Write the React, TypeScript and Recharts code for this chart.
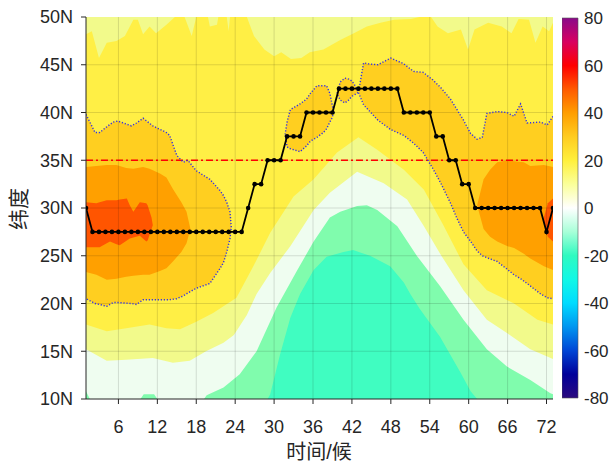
import {
  ComposedChart,
  BarChart,
  Bar,
  Area,
  Line,
  XAxis,
  YAxis,
  ReferenceLine,
} from "recharts";

// ridge line latitude per pentad (1..73)
const ridgeLat = [
  30, 27.5, 27.5, 27.5, 27.5, 27.5, 27.5, 27.5, 27.5, 27.5, 27.5, 27.5, 27.5,
  27.5, 27.5, 27.5, 27.5, 27.5, 27.5, 27.5, 27.5, 27.5, 27.5, 27.5, 27.5, 30,
  32.5, 32.5, 35, 35, 35, 37.5, 37.5, 37.5, 40, 40, 40, 40, 40, 42.5, 42.5,
  42.5, 42.5, 42.5, 42.5, 42.5, 42.5, 42.5, 42.5, 40, 40, 40, 40, 40, 37.5,
  37.5, 35, 35, 32.5, 32.5, 30, 30, 30, 30, 30, 30, 30, 30, 30, 30, 30, 27.5,
  30,
];

const xTicks = [6, 12, 18, 24, 30, 36, 42, 48, 54, 60, 66, 72];
const yTicks = [10, 15, 20, 25, 30, 35, 40, 45, 50];
const cbTicks = [-80, -60, -40, -20, 0, 20, 40, 60, 80];
const refLat = 35;

// filled contour regions: [pentad, lower lat, upper lat]
const goldLeft = [
  [1, 20.5, 39.8], [2.4, 20.0, 37.9], [3.1, 19.9, 37.9], [4.2, 19.7, 38.5],
  [5.2, 20.1, 39.0], [5.9, 20.1, 39.1], [8.0, 20.0, 38.6], [8.8, 19.9, 38.9],
  [9.8, 20.4, 39.4], [11.3, 20.4, 38.6], [13.4, 20.4, 37.9], [13.9, 20.4, 37.6],
  [15.0, 20.5, 35.5], [16.0, 20.8, 34.8], [16.7, 21.1, 35.0], [18.0, 21.6, 33.9],
  [20.1, 22.1, 33.0], [21.7, 23.7, 31.8], [22.2, 24.3, 31.3], [22.7, 25.4, 30.6],
  [23.2, 26.8, 29.6], [23.4, 28.0, 28.0],
];
const goldLoop1 = [
  [31.7, 37.7, 37.7], [32.0, 36.4, 39.0], [32.5, 36.2, 40.3], [34.0, 35.9, 40.9],
  [35.0, 36.5, 41.4], [35.6, 37.0, 42.0], [36.6, 37.4, 42.8], [37.6, 37.9, 42.8],
  [38.1, 38.3, 42.8], [38.6, 39.0, 42.0], [38.9, 39.4, 41.0], [39.2, 40.0, 40.0],
];
const goldLoop2 = [
  [39.7, 42.0, 42.0], [40.2, 41.3, 43.2], [40.9, 41.0, 43.6], [41.5, 41.3, 43.5],
  [42.0, 41.7, 43.3], [42.5, 41.9, 42.8], [43.0, 42.1, 42.1],
];
const goldMain = [
  [43.0, 42.1, 42.1], [43.8, 40.8, 45.2], [44.5, 40.3, 45.1], [46.0, 39.2, 45.0],
  [48.0, 38.2, 45.7], [50.0, 37.6, 45.1], [51.5, 36.8, 44.3], [53.0, 35.8, 44.2],
  [54.5, 34.1, 43.4], [55.7, 32.6, 42.6], [57.2, 30.5, 41.4], [58.2, 28.9, 40.3],
  [59.2, 27.5, 39.2], [60.3, 26.5, 37.8], [61.3, 25.5, 37.2], [62.1, 25.0, 37.4],
  [62.8, 24.8, 39.9], [64.4, 24.4, 40.1], [65.9, 23.6, 40.0], [67.0, 23.0, 39.6],
  [68.0, 22.6, 40.9], [69.0, 22.1, 38.9], [71.1, 21.0, 39.0], [72.1, 20.6, 38.7],
  [73.0, 20.5, 39.6],
];
const orangeLeft = [
  [1, 23.3, 34.3], [2.6, 23.0, 34.4], [4.2, 22.5, 34.5], [5.7, 22.6, 34.5],
  [7.2, 22.8, 34.2], [8.3, 22.9, 34.1], [9.8, 23.0, 34.3], [10.8, 23.0, 34.1],
  [12.4, 23.4, 33.6], [13.4, 23.7, 33.2], [14.4, 24.4, 32.0], [15.7, 25.4, 30.6],
  [16.5, 26.3, 29.6], [17.1, 27.8, 27.8],
];
const orangeRight = [
  [61.3, 30.3, 30.3], [62.3, 27.8, 33.0], [63.3, 27.0, 34.0], [64.4, 26.5, 34.8],
  [66.0, 26.0, 35.0], [67.0, 25.8, 34.9], [68.5, 25.2, 34.8], [69.5, 24.7, 34.4],
  [71.6, 23.9, 34.5], [73.0, 23.5, 34.3],
];
const redLeft = [
  [1, 25.9, 30.6], [2.6, 25.9, 30.5], [3.1, 25.9, 30.6], [4.2, 26.3, 30.8],
  [4.7, 26.5, 30.8], [5.7, 26.2, 30.8], [6.2, 26.1, 30.9], [7.3, 26.6, 31.0],
  [7.75, 26.8, 30.3], [8.3, 26.9, 29.6], [9.3, 27.1, 30.6], [10.3, 26.5, 30.5],
  [10.5, 26.6, 30.3], [11.1, 27.8, 29.0], [11.3, 28.2, 28.2],
];
const redRight = [[71.5, 28.8, 28.8], [72.2, 27.0, 30.5], [73.0, 26.5, 31.0]];

// regions reaching the top edge: [pentad, lower lat]
const lightTop = [
  [1, 48.2], [1.9, 48.5], [3.0, 45.7], [4.2, 47.3], [5.7, 47.5], [7.0, 48.0],
  [8.3, 49.7], [9.0, 49.7], [9.8, 48.2], [10.8, 49.0], [11.8, 48.3], [13.4, 49.2],
  [14.7, 50], [16.2, 50], [17.3, 48.0], [18, 50], [19.8, 50], [20.1, 49.0],
  [21.2, 49.2], [21.4, 50], [22.7, 50], [23.0, 48.5], [23.2, 50], [25.8, 50],
  [26.9, 48.0], [28.5, 46.6], [30.0, 45.9], [31.1, 46.3], [32.6, 45.6],
  [34.2, 45.7], [35.5, 46.3], [37.6, 46.6], [40.2, 47.6], [42.3, 48.3],
  [44.3, 49.0], [46.4, 49.4], [48.5, 49.7], [51.1, 49.8], [52.4, 50], [54.2, 50],
  [55.2, 49.0], [56.8, 48.3], [58.8, 48.7], [59.9, 46.6], [60.9, 48.7],
  [63.0, 49.4], [65.1, 49.0], [66.6, 48.3], [67.7, 49.8], [69.3, 49.7],
  [70.3, 47.3], [71.4, 49.0], [72.4, 48.5], [73, 49.4],
];

// regions reaching the bottom edge: [pentad, upper lat]
const lightBottom = [
  [1, 17.8], [4.2, 17.1], [7.2, 17.4], [10.8, 17.8], [13.4, 17.4], [15.5, 17.3],
  [18, 18.1], [20.6, 19.0], [24.2, 20.6], [26.8, 23.9], [29.4, 27.4], [33, 31.2],
  [36.1, 33.0], [39.7, 35.8], [43, 37.4], [45.9, 36.1], [50, 34.0], [53.1, 31.9],
  [56.1, 28.2], [59.2, 24.1], [62.8, 21.4], [67, 20.0], [70.6, 18.3], [73, 17.8],
];
const paleBottom = [
  [1, 15.2], [4.2, 14.0], [7.2, 14.1], [11.3, 14.3], [14.4, 13.8], [17, 14.0],
  [19.5, 15.0], [22.2, 15.9], [23.8, 16.7], [25.8, 18.8], [27.3, 21.0],
  [29.4, 23.2], [32.5, 26.0], [36.1, 29.8], [38.6, 31.6], [42.8, 33.8],
  [46.9, 32.6], [50.5, 30.9], [53.1, 28.1], [55.6, 25.2], [59.2, 21.4],
  [62.8, 18.3], [65.9, 16.9], [69.5, 15.2], [73, 14.2],
];
const greenBottom = [
  [1, 10.8], [1.6, 10], [9.4, 10], [9.9, 10.5], [11.5, 10.5], [12, 10],
  [19.2, 10], [19.6, 10.4], [22.2, 11.2], [24.7, 12.6], [27.3, 15.0],
  [30.4, 19.6], [33.5, 23.4], [36.1, 26.5], [38.6, 29.0], [40.2, 29.6],
  [42.8, 30.2], [44.3, 30.3], [45.9, 29.8], [49, 28.1], [52, 25.0], [55.6, 21.8],
  [59.2, 18.3], [62.8, 15.2], [65.9, 13.4], [69.5, 12.0], [72.6, 10.6], [73, 10.5],
];
const aquaBottom = [
  [29.0, 10.0], [29.4, 10.5], [30.9, 14.6], [32.5, 18.5], [34.0, 21.0],
  [36.1, 23.5], [38.1, 24.9], [40.7, 25.4], [42.2, 25.6], [43.5, 25.3],
  [44.8, 25.0], [47.9, 23.9], [50, 22.2], [51, 21.0], [52.5, 19.4], [55.6, 16.5],
  [58.8, 12.7], [60.3, 10.8], [61.3, 10.0],
];

const C = {
  yellow: "#FFEF45",
  light: "#F2FA8B",
  pale: "#EFFDF0",
  green: "#80FCAD",
  aqua: "#40FDC1",
  gold: "#FFCF20",
  orange: "#FFA000",
  red: "#FF5500",
  text: "#262626",
};

const band = (rows: number[][]) => rows.map(([x, lo, hi]) => ({ x, v: [lo, hi] }));
const fromBottom = (rows: number[][]) => rows.map(([x, y]) => ({ x, v: [10, y] }));
const fromTop = (rows: number[][]) => rows.map(([x, y]) => ({ x, v: [y, 50] }));
// outline of a band: upper edge left->right, lower edge back
const loop = (rows: number[][]) => [
  ...rows.map(([x, , hi]) => ({ x, y: hi })),
  ...rows.slice().reverse().map(([x, lo]) => ({ x, y: lo })),
];
// outline for a band touching the right edge: upper edge right->left, lower edge left->right
const openRight = (rows: number[][]) => [
  ...rows.slice().reverse().map(([x, , hi]) => ({ x, y: hi })),
  ...rows.map(([x, lo]) => ({ x, y: lo })),
];

const ridge = ridgeLat.map((y, i) => ({ x: i + 1, y }));
const background = [
  { x: 1, v: [10, 50] },
  { x: 73, v: [10, 50] },
];
const colorbarData = [{ n: "cb", v: [-80, 80] }];

const gradStops: [number, string][] = [
  [-80, "#2B0A7E"], [-70, "#00009A"], [-60, "#0046D6"], [-50, "#0096F0"],
  [-40, "#00DCFF"], [-30, "#12F8E6"], [-20, "#30FAC0"], [-10, "#A8FFD8"],
  [0, "#FFFFFF"], [10, "#FAFF9A"], [20, "#FFF03C"], [30, "#FFCC20"],
  [40, "#FF9E00"], [50, "#FF5A00"], [60, "#FF0000"], [70, "#D80060"],
  [80, "#8A0A8A"],
];

const fills: [any[], string][] = [
  [background, C.yellow],
  [fromTop(lightTop), C.light],
  [fromBottom(lightBottom), C.light],
  [fromBottom(paleBottom), C.pale],
  [fromBottom(greenBottom), C.green],
  [fromBottom(aquaBottom), C.aqua],
  [band(goldLeft), C.gold],
  [band(goldLoop1), C.gold],
  [band(goldLoop2), C.gold],
  [band(goldMain), C.gold],
  [band(orangeLeft), C.orange],
  [band(orangeRight), C.orange],
  [band(redLeft), C.red],
  [band(redRight), C.red],
];

const outlines = [
  loop(goldLeft),
  loop(goldLoop1),
  loop(goldLoop2),
  openRight(goldMain),
];

const tickStyle = { fontSize: 18, fill: C.text };
const font = '"Liberation Sans", Arial, "Noto Sans CJK SC", sans-serif';

export default function App() {
  return (
    <div
      style={{
        position: "absolute",
        left: 0,
        top: 0,
        width: 609,
        height: 464,
        background: "#fff",
        fontFamily: font,
      }}
    >
      <ComposedChart
        width={609}
        height={464}
        margin={{ top: 17, right: 56, bottom: 0, left: 0 }}
      >
        <XAxis
          dataKey="x"
          type="number"
          domain={[1, 73]}
          ticks={xTicks}
          interval={0}
          height={65}
          tickSize={5}
          tickMargin={16}
          stroke={C.text}
          tick={tickStyle}
          allowDataOverflow
        />
        <XAxis
          xAxisId="top"
          orientation="top"
          dataKey="x"
          type="number"
          domain={[1, 73]}
          ticks={xTicks}
          height={0}
          tickSize={5}
          tick={false}
          stroke={C.text}
          allowDataOverflow
        />
        <YAxis
          type="number"
          domain={[10, 50]}
          ticks={yTicks}
          interval={0}
          width={86}
          tickSize={5}
          tickMargin={8}
          stroke={C.text}
          tick={tickStyle}
          tickFormatter={(v: number) => `${v}N`}
          allowDataOverflow
        />
        <YAxis
          yAxisId="right"
          orientation="right"
          type="number"
          domain={[10, 50]}
          ticks={yTicks}
          width={0}
          tickSize={5}
          tick={false}
          stroke={C.text}
          allowDataOverflow
        />
        {fills.map(([data, color], i) => (
          <Area
            key={`f${i}`}
            data={data}
            dataKey="v"
            type="linear"
            stroke="none"
            fill={color}
            fillOpacity={1}
            dot={false}
            activeDot={false}
            isAnimationActive={false}
          />
        ))}
        {xTicks.map((t) => (
          <ReferenceLine key={`gx${t}`} x={t} stroke="#000" strokeOpacity={0.13} />
        ))}
        {yTicks.slice(1, -1).map((t) => (
          <ReferenceLine key={`gy${t}`} y={t} stroke="#000" strokeOpacity={0.13} />
        ))}
        <ReferenceLine
          y={refLat}
          stroke="#FF0000"
          strokeWidth={1.6}
          strokeDasharray="7 3 2 3"
        />
        {outlines.map((data, i) => (
          <Line
            key={`o${i}`}
            data={data}
            dataKey="y"
            type="linear"
            stroke="#2F2FEA"
            strokeWidth={1.4}
            strokeDasharray="1.2 1.8"
            dot={false}
            activeDot={false}
            isAnimationActive={false}
          />
        ))}
        <Line
          data={ridge}
          dataKey="y"
          type="linear"
          stroke="#000"
          strokeWidth={1.8}
          dot={{ r: 2.3, fill: "#000", stroke: "#000", strokeWidth: 0 }}
          activeDot={false}
          isAnimationActive={false}
        />
      </ComposedChart>

      <div style={{ position: "absolute", left: 562, top: 0 }}>
        <BarChart
          width={47}
          height={464}
          data={colorbarData}
          margin={{ top: 18, right: 0, bottom: 66, left: 0 }}
          barCategoryGap={0}
        >
          <defs>
            <linearGradient id="cbGrad" x1="0" y1="1" x2="0" y2="0">
              {gradStops.map(([v, c]) => (
                <stop key={v} offset={`${((v + 80) / 160) * 100}%`} stopColor={c} />
              ))}
            </linearGradient>
          </defs>
          <XAxis dataKey="n" hide />
          <YAxis
            orientation="right"
            type="number"
            domain={[-80, 80]}
            ticks={cbTicks}
            interval={0}
            width={31}
            tickSize={3}
            tickMargin={3}
            axisLine={false}
            tickLine={false}
            tick={{ fontSize: 17, fill: C.text }}
          />
          <Bar
            dataKey="v"
            fill="url(#cbGrad)"
            stroke="#555"
            strokeWidth={0.6}
            isAnimationActive={false}
          />
        </BarChart>
      </div>

      <div
        style={{
          position: "absolute",
          left: 219,
          top: 442,
          width: 200,
          textAlign: "center",
          fontSize: 20,
          lineHeight: "20px",
          color: C.text,
        }}
      >
        时间/候
      </div>
      <div
        style={{
          position: "absolute",
          left: -11,
          top: 197,
          width: 60,
          height: 24,
          lineHeight: "24px",
          textAlign: "center",
          fontSize: 21,
          color: C.text,
          transform: "rotate(-90deg)",
        }}
      >
        纬度
      </div>
    </div>
  );
}
